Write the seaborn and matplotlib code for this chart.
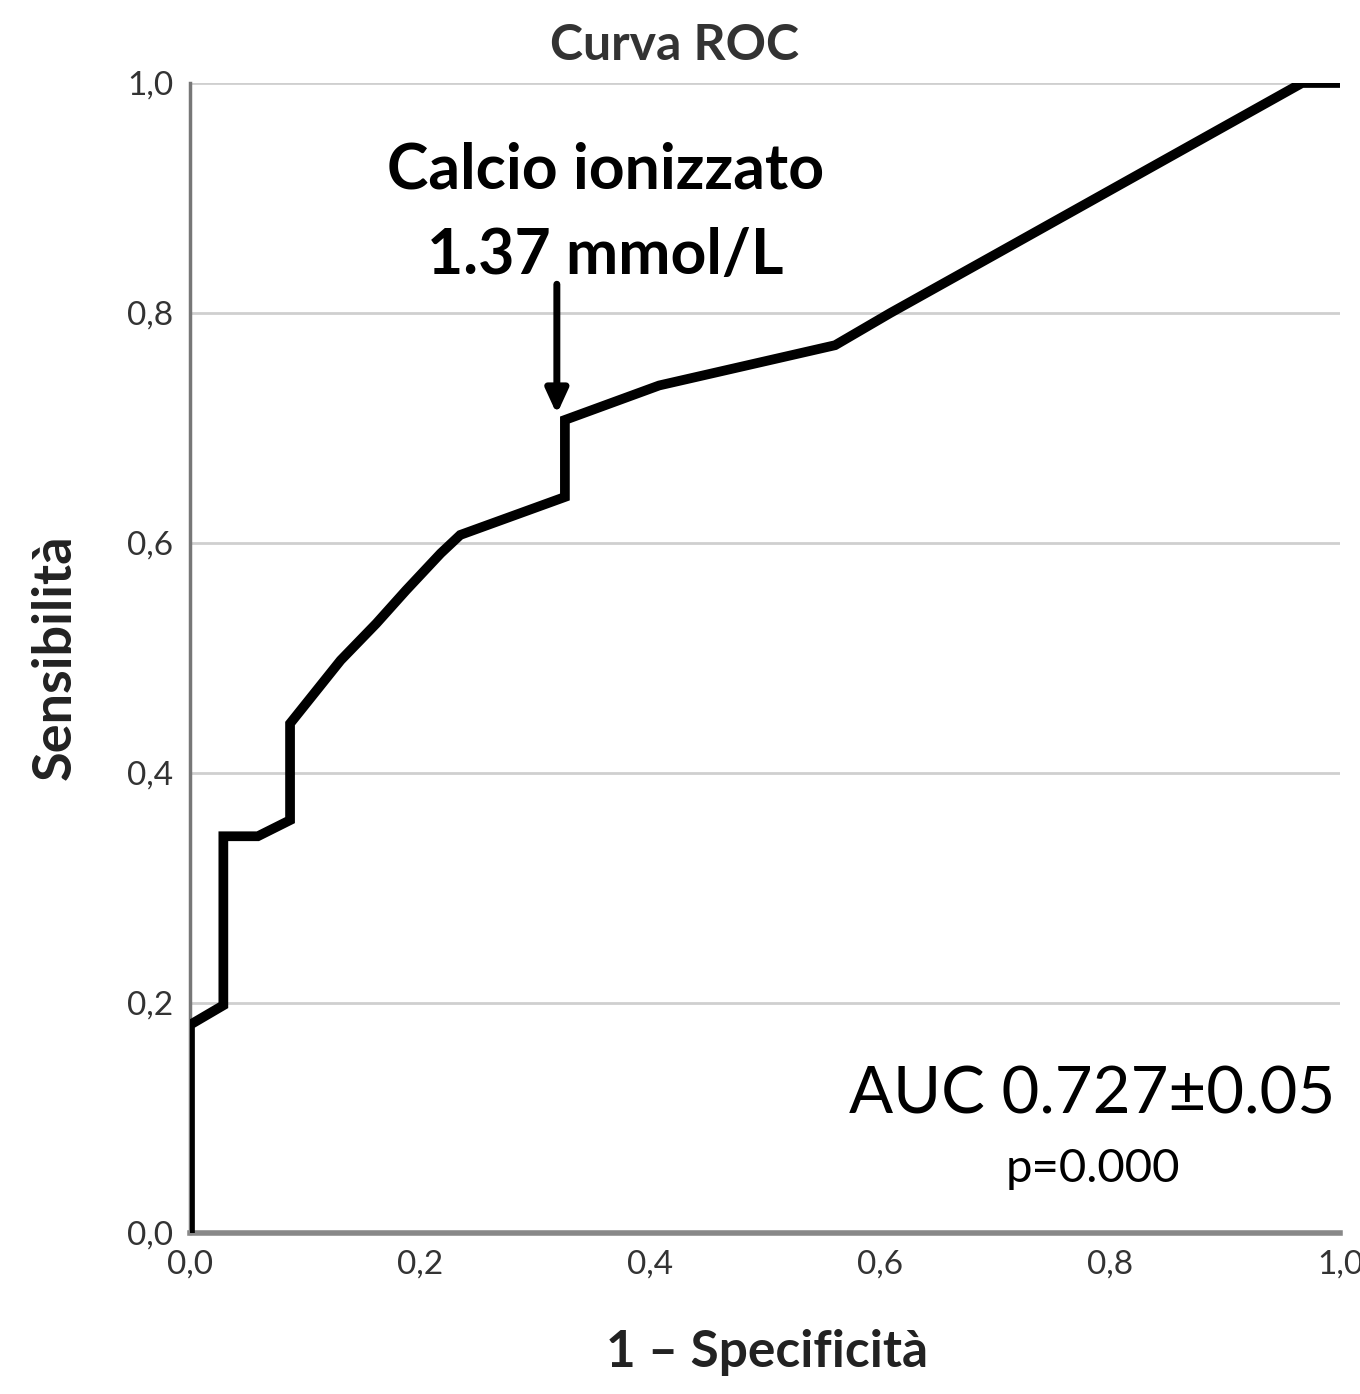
import matplotlib
matplotlib.use("Agg")
import matplotlib.pyplot as plt
import seaborn as sns
import pandas as pd

# ROC curve points (1 - specificity, sensitivity)
fpr = [0.0, 0.0, 0.029, 0.029, 0.059, 0.087, 0.087, 0.131, 0.162, 0.188, 0.218, 0.235,
       0.326, 0.326, 0.408, 0.561, 0.609, 0.704, 0.967, 1.0]
tpr = [0.0, 0.181, 0.198, 0.345, 0.345, 0.359, 0.443, 0.498, 0.530, 0.559, 0.591, 0.607,
       0.640, 0.707, 0.737, 0.772, 0.800, 0.853, 1.0, 1.0]
ticks = [0.0, 0.2, 0.4, 0.6, 0.8, 1.0]
tick_labels = ["0,0", "0,2", "0,4", "0,6", "0,8", "1,0"]
cutoff_x, cutoff_y = 0.319, 0.712
cutoff_line1 = "Calcio ionizzato"
cutoff_line2 = "1.37 mmol/L"
auc_text = "AUC 0.727\u00b10.05"
p_text = "p=0.000"

df = pd.DataFrame({"fpr": fpr, "tpr": tpr})

sns.set_theme(style="white")
plt.rcParams['font.family'] = ['Lato', 'DejaVu Sans']

fig = plt.figure(figsize=(13.6, 13.94), dpi=100)
ax = fig.add_axes([190/1360, 1-1233/1394, 1150/1360, 1150/1394])

for t in ticks[1:]:
    ax.axhline(t, color="#cfcfcf", lw=2, zorder=0)

sns.lineplot(data=df, x="fpr", y="tpr", sort=False, estimator=None,
             color="black", lw=7, ax=ax, zorder=3)
ax.lines[-1].set_solid_joinstyle("miter")

ax.set_xlim(0, 1)
ax.set_ylim(0, 1)
ax.set_xticks(ticks)
ax.set_xticklabels(tick_labels)
ax.set_yticks(ticks)
ax.set_yticklabels(tick_labels)
ax.tick_params(axis="both", labelsize=24, colors="#333333", length=0, pad=12)
for lab in ax.get_xticklabels() + ax.get_yticklabels():
    lab.set_color("#333333")
ax.set_xlabel("")
ax.set_ylabel("")
for s in ["top", "right"]:
    ax.spines[s].set_visible(False)
ax.spines["left"].set_color("#777777")
ax.spines["left"].set_linewidth(2.5)
ax.spines["bottom"].set_color("#888888")
ax.spines["bottom"].set_linewidth(4)

ax.annotate("", xy=(cutoff_x, cutoff_y), xytext=(cutoff_x, 0.825),
            arrowprops=dict(arrowstyle="-|>,head_length=1.2,head_width=0.55",
                            color="black", lw=5, shrinkA=0, shrinkB=0), zorder=4)
ax.text(0.361, 0.908, cutoff_line1, ha="center", va="baseline", fontsize=45,
        fontweight="bold", color="black")
ax.text(0.361, 0.834, cutoff_line2, ha="center", va="baseline", fontsize=45,
        fontweight="bold", color="black")
ax.text(0.996, 0.104, auc_text, ha="right", va="baseline", fontsize=47, color="black")
ax.text(0.785, 0.044, p_text, ha="center", va="baseline", fontsize=34, color="black")

fig.text(675/1360, 1-45/1394, "Curva ROC", ha="center", va="center", fontsize=36,
         fontweight="bold", color="#333333")
fig.text(55/1360, 1-657/1394, "Sensibilità", ha="center", va="center", rotation=90,
         fontsize=39, fontweight="bold", color="#222222")
fig.text(767/1360, 1-1353/1394, "1 \u2013 Specificità", ha="center", va="center",
         fontsize=37, fontweight="bold", color="#222222")

fig.savefig("out.png", dpi=100, facecolor="white")
